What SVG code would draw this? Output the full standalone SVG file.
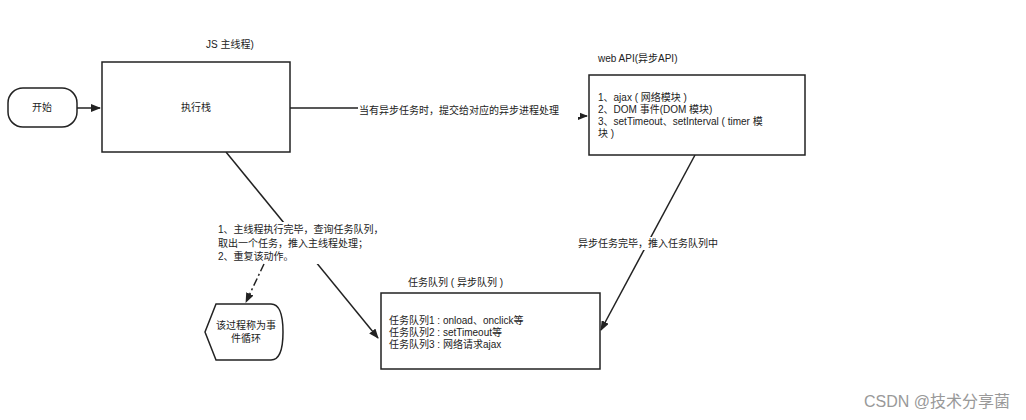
<svg xmlns="http://www.w3.org/2000/svg" width="1026" height="420" viewBox="0 0 1026 420">
<style>
text{font-family:"Liberation Sans","Noto Sans CJK SC",sans-serif;font-size:10px;fill:#222}
.b{fill:#fff;stroke:#222;stroke-width:1.5}
.c{fill:none;stroke:#222;stroke-width:1.5}
.bg{fill:#fff}
</style>
<defs><marker id="a" markerWidth="10" markerHeight="8" refX="9" refY="4" orient="auto" markerUnits="userSpaceOnUse"><path d="M0,0L10,4L0,8Z" fill="#222"/></marker></defs>
<rect width="1026" height="420" fill="#fff"/>
<g id="connectors">
<path class="c" d="M77,108H100" marker-end="url(#a)"/>
<path class="c" d="M290,108H560V116H587" marker-end="url(#a)"/>
<rect class="bg" x="358" y="104" width="222" height="13"/>
<text x="359" y="114">当有异步任务时，提交给对应的异步进程处理</text>
<path class="c" d="M226,152L378,338" marker-end="url(#a)"/>
<path class="c" d="M695,155L601,330" marker-end="url(#a)"/>
<rect class="bg" x="216" y="222" width="170" height="42"/>
<rect class="bg" x="576" y="237" width="148" height="13"/>
<text x="578" y="247">异步任务完毕，推入任务队列中</text>
<text x="218" y="233">1、主线程执行完毕，查询任务队列，</text>
<text x="218" y="247">取出一个任务，推入主线程处理；</text>
<text x="218" y="260">2、重复该动作。</text>
<path class="c" d="M264,264L246,302" stroke-dasharray="8,3,2,3" marker-end="url(#a)"/>
</g>
<g id="start"><rect class="b" x="8" y="88" width="69" height="39" rx="15"/><text x="42" y="111" text-anchor="middle">开始</text></g>
<g id="stack"><text x="230" y="48" text-anchor="middle">JS 主线程)</text><rect class="b" x="102" y="62" width="188" height="90"/><text x="196" y="111" text-anchor="middle">执行栈</text></g>
<g id="webapi"><text x="598" y="62">web API(异步API)</text><rect class="b" x="589" y="75" width="216" height="80"/>
<text x="598" y="101">1、ajax ( 网络模块 )</text><text x="598" y="113">2、DOM 事件(DOM 模块)</text><text x="598" y="125">3、setTimeout、setInterval ( timer 模</text><text x="598" y="137">块 )</text></g>
<g id="queue"><text x="408" y="286">任务队列 ( 异步队列 )</text><rect class="b" x="381" y="293" width="219" height="76"/>
<text x="389" y="324">任务队列1 : onload、onclick等</text><text x="389" y="336">任务队列2 : setTimeout等</text><text x="389" y="348">任务队列3 : 网络请求ajax</text></g>
<g id="loop"><path class="b" d="M216,304H271Q283,304 283,332Q283,360 271,360H216L205,332Z"/><text x="246" y="329" text-anchor="middle">该过程称为事</text><text x="246" y="342" text-anchor="middle">件循环</text></g>
<text x="1010" y="407" text-anchor="end" style="font-size:16px;fill:#999">CSDN @技术分享菌</text>
</svg>
